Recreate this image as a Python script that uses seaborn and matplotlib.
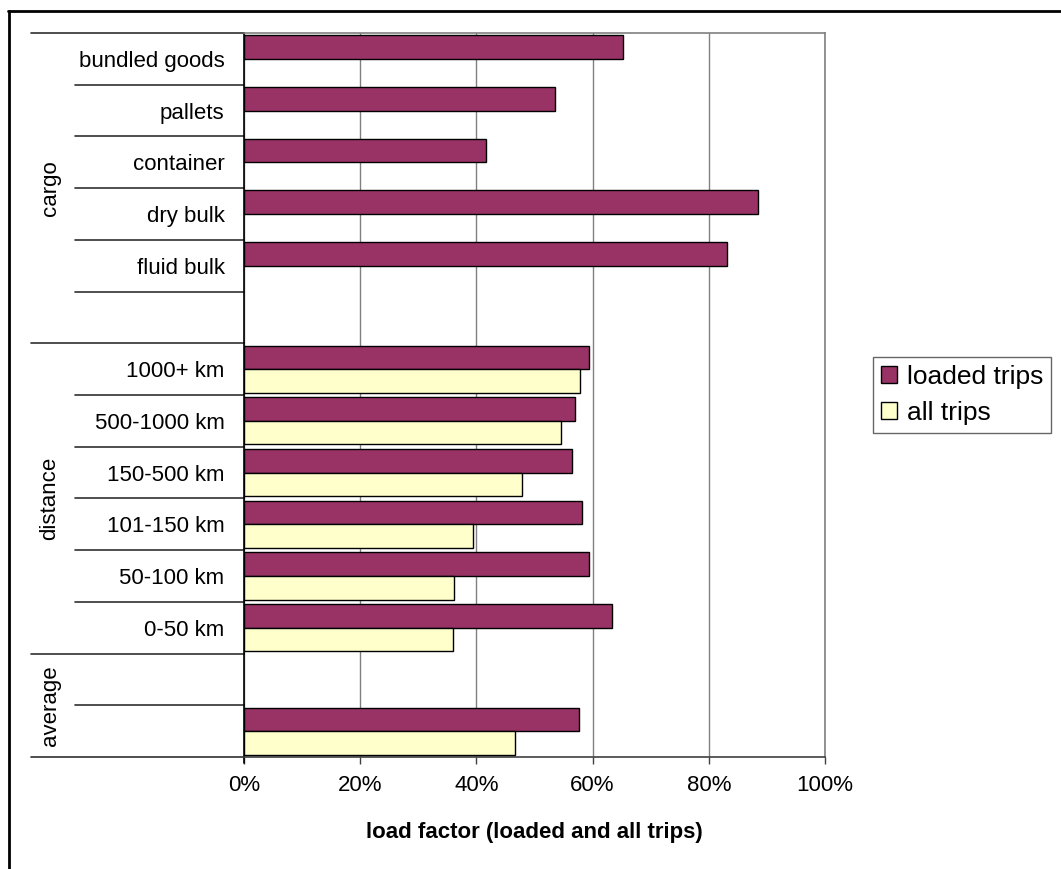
import numpy as np
import pandas as pd
import matplotlib
matplotlib.use("Agg")
import matplotlib.pyplot as plt
import matplotlib.transforms as mtransforms
from matplotlib.ticker import PercentFormatter
from matplotlib.lines import Line2D
import seaborn as sns

# ---- data ----
categories = ["bundled goods", "pallets", "container", "dry bulk", "fluid bulk", " ",
              "1000+ km", "500-1000 km", "150-500 km", "101-150 km", "50-100 km", "0-50 km",
              "  ", "   "]
loaded_trips = [0.652, 0.535, 0.417, 0.885, 0.832, np.nan,
                0.594, 0.569, 0.564, 0.581, 0.594, 0.633,
                np.nan, 0.577]
all_trips = [np.nan, np.nan, np.nan, np.nan, np.nan, np.nan,
             0.579, 0.545, 0.479, 0.395, 0.361, 0.359,
             np.nan, 0.466]
series = ["loaded trips", "all trips"]
groups = ["cargo", "distance", "average"]
group_spans = [(0, 5), (6, 11), (12, 13)]
colors = ["#993366", "#FFFFCC"]

df = pd.DataFrame({
    "category": categories * 2,
    "value": loaded_trips + all_trips,
    "series": [series[0]] * len(categories) + [series[1]] * len(categories),
}).dropna()

sns.set_theme(style="white")
plt.rcParams["font.family"] = ["Liberation Sans", "DejaVu Sans"]
plt.rcParams["text.color"] = "black"
plt.rcParams["axes.labelcolor"] = "black"

FS = 16
W, H = 1061, 869
fig = plt.figure(figsize=(W / 100, H / 100), dpi=100)
ax = fig.add_axes([244 / W, 1 - 757 / H, (825 - 244) / W, (757 - 33) / H])

sns.barplot(data=df, y="category", x="value", hue="series", order=categories,
            hue_order=series, palette=colors, saturation=1, orient="h",
            width=0.91, errorbar=None, edgecolor="black", linewidth=1.0,
            ax=ax, zorder=3)

ax.set_xlim(0, 1)
ax.set_ylim(len(categories) - 0.5, -0.5)
ax.set_xticks(np.arange(0, 1.01, 0.2))
ax.xaxis.set_major_formatter(PercentFormatter(1.0, decimals=0))
ax.grid(axis="x", color="#808080", linewidth=1.0, zorder=0)
ax.grid(axis="y", visible=False)
ax.set_axisbelow(True)

for s in ["top", "right"]:
    ax.spines[s].set_color("#808080")
    ax.spines[s].set_linewidth(1.2)
ax.spines["bottom"].set_color("#404040")
ax.spines["bottom"].set_linewidth(1.2)
ax.spines["left"].set_color("black")
ax.spines["left"].set_linewidth(1.2)

ax.tick_params(axis="x", direction="out", length=5, width=1.0, color="#404040",
               labelsize=FS, pad=8, labelcolor="black", bottom=True)
ax.tick_params(axis="y", length=0, pad=14, labelsize=FS, labelcolor="black")
ax.set_ylabel("")
ax.set_xlabel("load factor (loaded and all trips)", fontsize=FS, fontweight="bold")
ax.xaxis.set_label_coords(0.5, -0.104)
ax.xaxis.label.set_va("center")

# category divider lines and group labels
trans = mtransforms.blended_transform_factory(ax.transAxes, ax.transData)
long_bounds = [-0.5] + [e + 0.5 for _, e in group_spans]
for b in np.arange(-0.5, len(categories), 1.0):
    x0 = -0.3666 if b in long_bounds else -0.2909
    ax.add_line(Line2D([x0, 0], [b, b], transform=trans, color="#303030",
                       linewidth=1.2, clip_on=False))
for g, (s, e) in zip(groups, group_spans):
    ax.text(-0.3339, (s + e) / 2, g, transform=trans, rotation=90, ha="center",
            va="center", fontsize=FS)
ax.add_line(Line2D([0, 0], [len(categories) - 0.5, len(categories) - 0.5 + 0.12],
                   transform=trans, color="black", linewidth=1.2, clip_on=False))

# legend
handles, labels = ax.get_legend_handles_labels()
if ax.get_legend() is not None:
    ax.get_legend().remove()
leg = fig.legend(handles, labels, loc="center left",
                 bbox_to_anchor=(873 / W, 1 - 395 / H), fontsize=19,
                 frameon=True, fancybox=False, edgecolor="#404040",
                 handlelength=0.62, handleheight=0.62, handletextpad=0.35,
                 borderpad=0.3, labelspacing=0.45, borderaxespad=0)
leg.get_frame().set_linewidth(1.0)

# outer chart frame (top and left edges)
fig.add_artist(Line2D([8 / W, 1], [1 - 11 / H, 1 - 11 / H], transform=fig.transFigure,
                      color="black", linewidth=2))
fig.add_artist(Line2D([9 / W, 9 / W], [0, 1 - 11 / H], transform=fig.transFigure,
                      color="black", linewidth=2))

fig.savefig("out.png", dpi=100)
